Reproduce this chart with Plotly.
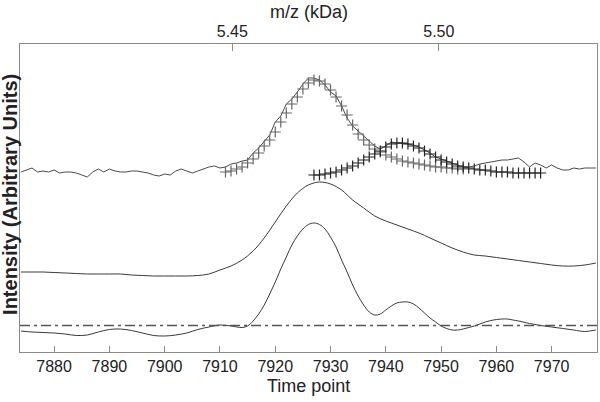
import plotly.graph_objects as go

# 原始時間序列 (每個時間點一筆)
raw_t = list(range(7874, 7979))
raw_y = [180, 182, 184, 180, 181, 180, 182, 179, 180, 180,
         179, 177, 175, 180, 183, 180, 183, 181, 180, 180,
         181, 181, 180, 179, 177, 176, 178, 177, 181, 183,
         181, 179, 181, 183, 185, 186, 184,
         185, 188, 189, 191, 192, 199, 204, 210, 217, 230,
         236, 248, 253, 260, 268, 274, 274, 272, 267, 260,
         256, 246, 234, 226, 221, 215, 211, 206, 203, 206,
         210, 209, 209, 208, 207, 205, 202, 199, 195, 193,
         191, 189, 187, 185, 185, 186, 188, 189, 190, 191,
         192, 192, 193, 194, 190, 185, 189, 187, 184, 187,
         184, 182, 182, 184, 183, 184, 184, 184]

# 高斯擬合 (十字)
fit1_t = list(range(7911, 7955))
fit1_y = [180, 181, 183, 185, 189, 193, 199, 206, 212, 220,
          230, 239, 248, 255, 263, 269, 272, 271, 268, 262,
          255, 246, 237, 227, 218, 212, 207, 203, 200, 197,
          195, 193, 191, 190, 189, 188, 187, 186, 185, 185,
          184, 184, 183, 183]
fit2_t = list(range(7927, 7969))
fit2_y = [177, 177, 178, 179, 180, 182, 184, 186, 189, 192,
          195, 198, 201, 205, 208, 209, 209, 208, 206, 204,
          201, 198, 195, 192, 190, 188, 186, 185, 184, 183,
          182, 182, 181, 180, 180, 180, 179, 179, 179, 179,
          179, 179]

# 平滑後
smooth_t = list(range(7874, 7979, 2))
smooth_y = [80, 80, 80, 79.5, 79, 78.5, 78, 78, 78, 78,
            77, 76.5, 76, 76, 76, 76, 76.5, 78, 82, 86,
            92, 101, 114, 130, 146, 159, 167, 170, 168, 162,
            152, 144, 136, 131, 127, 123, 119, 114, 109, 104,
            100, 97, 96, 94.5, 93, 91.5, 90, 88.5, 87, 86,
            86, 87, 89]

# 二階處理後
filt_t = list(range(7874, 7915, 2)) + list(range(7915, 7965)) + list(range(7966, 7979, 2))
filt_y = [21, 20, 19.5, 19, 18, 16.5, 17, 20, 22.5, 23,
          21.5, 19, 16.5, 16, 17, 19, 22.5, 25, 27, 26, 24.5,
          26, 31, 38, 47, 58, 70, 83, 95, 107, 116,
          123, 127.5, 129, 127.5, 123, 115, 105, 92, 80, 67,
          56, 47, 40, 37, 38, 42, 46, 49, 50, 50,
          48, 44, 39, 34, 30, 26, 23.5, 22, 22, 23,
          24.5, 26, 28, 30, 31.5, 32.5, 33, 33, 32, 31,
          28.5, 26.5, 25, 23.5, 22, 20.5, 22]

threshold = 26.5
t_range = [7873.83, 7978.2]
mz_range = [5.3986, 5.5383]
mz_ticks = [5.45, 5.50]

line_color = '#3a3a3a'
axis_color = '#8a8a8a'
text_color = '#222222'
font_family = 'Liberation Sans, Arial, sans-serif'

fig = go.Figure()
fig.add_trace(go.Scatter(x=raw_t, y=raw_y, mode='lines',
                         line=dict(color='#4a4a4a', width=1)))
fig.add_trace(go.Scatter(x=fit1_t, y=fit1_y, mode='markers',
                         marker=dict(symbol='cross-thin', size=8,
                                     line=dict(color='#666666', width=1.2))))
fig.add_trace(go.Scatter(x=fit2_t, y=fit2_y, mode='markers',
                         marker=dict(symbol='cross-thin', size=8,
                                     line=dict(color='#222222', width=1.2))))
fig.add_trace(go.Scatter(x=smooth_t, y=smooth_y, mode='lines', line_shape='spline',
                         line=dict(color=line_color, width=1)))
fig.add_trace(go.Scatter(x=filt_t, y=filt_y, mode='lines', line_shape='spline',
                         line=dict(color=line_color, width=1)))
fig.add_trace(go.Scatter(x=t_range, y=[threshold, threshold], mode='lines',
                         line=dict(color='#555555', width=1.5, dash='10px,4px,3px,4px')))
# 上方 m/z 軸用的隱形 trace
fig.add_trace(go.Scatter(x=mz_range, y=[None, None], xaxis='x2', mode='lines',
                         hoverinfo='skip'))

fig.update_layout(
    width=600, height=402,
    margin=dict(l=20, r=3, t=44, b=50, autoexpand=False),
    plot_bgcolor='white',
    paper_bgcolor='white',
    showlegend=False,
    font=dict(family=font_family, color=text_color, size=16),
    xaxis=dict(range=t_range, tickvals=list(range(7880, 7971, 10)),
               ticks='inside', ticklen=6, tickcolor=axis_color,
               ticklabelstandoff=0,
               showline=True, linecolor=axis_color, mirror=False,
               showgrid=False, zeroline=False, automargin=False,
               tickfont=dict(size=16)),
    xaxis2=dict(range=mz_range, overlaying='x', side='top', anchor='y',
                tickvals=mz_ticks, tickformat='.2f',
                ticks='inside', ticklen=7, tickcolor=axis_color,
                showline=True, linecolor=axis_color,
                showgrid=False, zeroline=False, automargin=False,
                tickfont=dict(size=16)),
    yaxis=dict(range=[0, 308], showticklabels=False, ticks='',
               showline=True, linecolor=axis_color, mirror=True,
               showgrid=False, zeroline=False, automargin=False),
    annotations=[
        dict(text='<b>Intensity (Arbitrary Units)</b>', textangle=-90,
             xref='paper', yref='paper', x=0, y=0.51, xshift=-10,
             xanchor='center', yanchor='middle', showarrow=False,
             font=dict(size=20, color=text_color)),
        dict(text='Time point', xref='paper', yref='paper', x=0.5, y=0,
             yshift=-34, xanchor='center', yanchor='middle', showarrow=False,
             font=dict(size=18, color=text_color)),
        dict(text='m/z (kDa)', xref='paper', yref='paper', x=0.5, y=1,
             yshift=32, xanchor='center', yanchor='middle', showarrow=False,
             font=dict(size=18, color=text_color)),
    ],
)

# 頁面預設有 8px 邊距，去掉讓圖貼齊視窗
fig.write_html("out.html", config={'displayModeBar': False},
               post_script="document.body.style.margin='0';")
